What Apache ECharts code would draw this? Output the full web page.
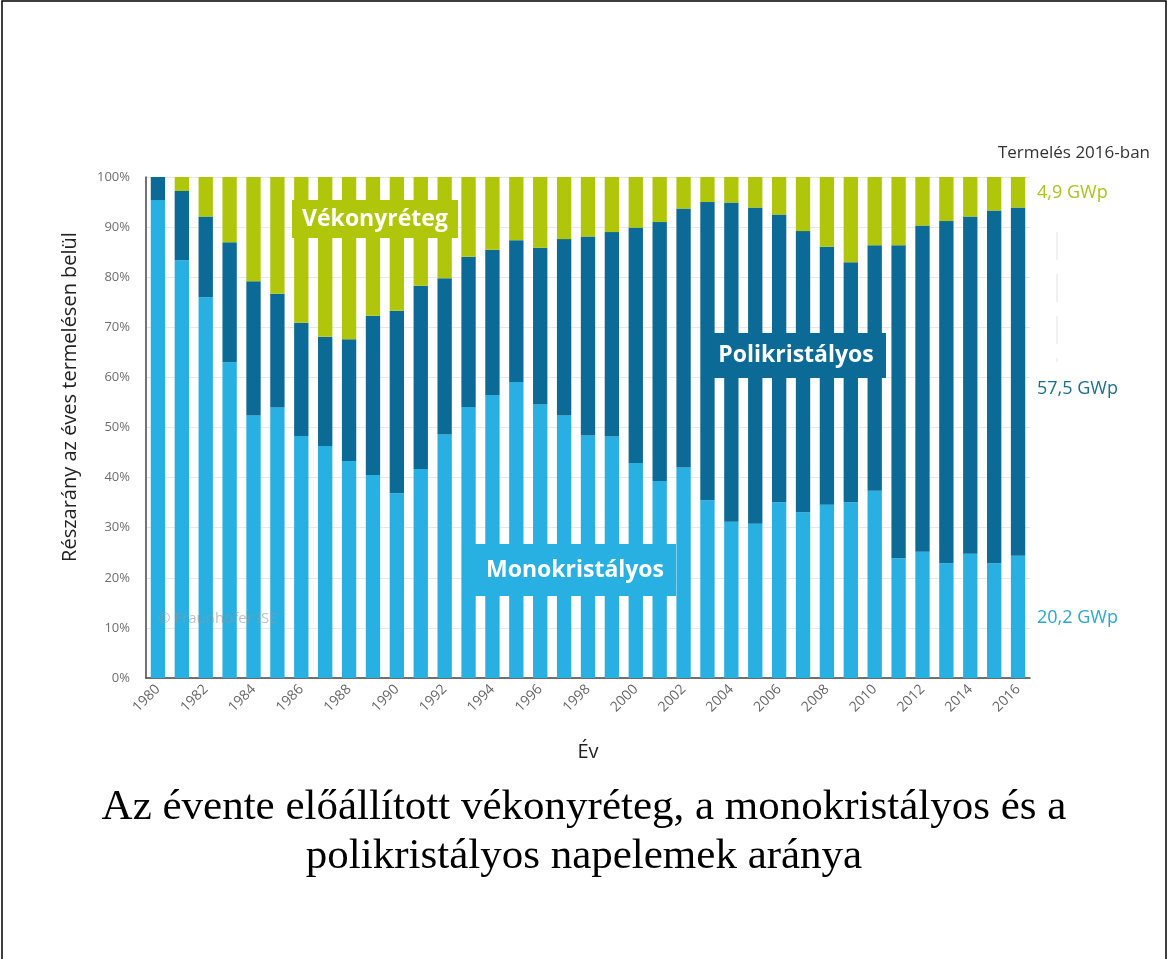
<!DOCTYPE html>
<html>
<head>
<meta charset="utf-8">
<script src="https://cdn.jsdelivr.net/npm/echarts@6/dist/echarts.min.js"></script>
<style>
  html, body { margin: 0; padding: 0; background: #fff; }
  #chart { width: 1169px; height: 959px; }
</style>
</head>
<body>
<div id="chart"></div>
<script>
// shares of yearly production, %
const years = ['1980','1981','1982','1983','1984','1985','1986','1987','1988','1989',
  '1990','1991','1992','1993','1994','1995','1996','1997','1998','1999',
  '2000','2001','2002','2003','2004','2005','2006','2007','2008','2009',
  '2010','2011','2012','2013','2014','2015','2016'];
const mono = [95.4, 83.4, 76.0, 63.0, 52.4, 54.0, 48.3, 46.3, 43.3, 40.5,
  36.9, 41.7, 48.6, 54.1, 56.5, 59.1, 54.6, 52.4, 48.4, 48.2,
  42.9, 39.3, 42.0, 35.5, 31.2, 30.8, 35.1, 33.1, 34.6, 35.1,
  37.4, 23.9, 25.2, 22.9, 24.8, 22.9, 24.4];
const poly = [4.6, 13.8, 16.1, 24.0, 26.8, 22.7, 22.6, 21.8, 24.3, 31.8,
  36.4, 36.6, 31.2, 30.0, 29.0, 28.3, 31.3, 35.2, 39.7, 40.8,
  47.0, 51.7, 51.7, 59.5, 63.7, 63.1, 57.4, 56.1, 51.5, 47.9,
  49.0, 62.5, 65.1, 68.3, 67.3, 70.4, 69.5];
const thin = [0, 2.8, 7.9, 13.0, 20.8, 23.3, 29.1, 31.9, 32.4, 27.7,
  26.7, 21.7, 20.2, 15.9, 14.5, 12.6, 14.1, 12.4, 11.9, 11.0,
  10.1, 9.0, 6.3, 5.0, 5.1, 6.1, 7.5, 10.8, 13.9, 17.0,
  13.6, 13.6, 9.7, 8.8, 7.9, 6.7, 6.1];
const output2016 = ['4,9 GWp', '57,5 GWp', '20,2 GWp'];

const C_MONO = '#29b0e3', C_POLY = '#0b6b96', C_THIN = '#b0c60a';
const FONT = 'Open Sans';

const chart = echarts.init(document.getElementById('chart'));

// coloured box with white text, sitting on top of the bars
function boxLabel(text, x, y, bg, w, h) {
  return [
    { type: 'rect', z: 100, shape: { x: x, y: y, width: w, height: h }, style: { fill: bg } },
    { type: 'text', z: 101, x: x + w / 2, y: y + h / 2,
      style: { text: text, fill: '#fff', font: 'bold 23px "Open Sans"', align: 'center', verticalAlign: 'middle' } }
  ];
}

chart.setOption({
  animation: false,
  textStyle: { fontFamily: FONT },
  grid: { left: 146, right: 139, top: 177, bottom: 281 },
  xAxis: {
    type: 'category',
    data: years,
    name: 'Év',
    nameLocation: 'middle',
    nameGap: 64,
    nameTextStyle: { fontSize: 20, color: '#222' },
    axisLine: { lineStyle: { color: '#444', width: 1.5 } },
    axisTick: { alignWithLabel: true, interval: 0, length: 4, lineStyle: { color: '#444' } },
    axisLabel: { interval: 1, rotate: 45, fontSize: 14, color: '#666', margin: 9 }
  },
  yAxis: {
    type: 'value',
    min: 0, max: 100, interval: 10,
    axisLine: { show: true, lineStyle: { color: '#444', width: 1.5 } },
    axisTick: { show: false },
    axisLabel: { formatter: '{value}%', fontSize: 13, color: '#6f6f6f', margin: 16 },
    splitLine: { lineStyle: { color: '#e8e8e8' } }
  },
  series: [
    { name: 'Monokristályos', type: 'bar', stack: 'all', data: mono, barWidth: '60%', itemStyle: { color: C_MONO } },
    { name: 'Polikristályos', type: 'bar', stack: 'all', data: poly, itemStyle: { color: C_POLY } },
    { name: 'Vékonyréteg', type: 'bar', stack: 'all', data: thin, itemStyle: { color: C_THIN } }
  ],
  graphic: [
    { type: 'rect', shape: { x: 2, y: 1, width: 1164, height: 1000 }, style: { fill: 'none', stroke: '#000', lineWidth: 1.5 }, silent: true },
    ...boxLabel('Vékonyréteg', 292, 200, C_THIN, 166, 38),
    ...boxLabel('Polikristályos', 706, 333, C_POLY, 180, 45),
    ...boxLabel('Monokristályos', 474, 544, C_MONO, 202, 52),
    { type: 'text', x: 70, y: 397, rotation: Math.PI / 2,
      style: { text: 'Részarány az éves termelésen belül', fill: '#222', font: '20px "Open Sans"', align: 'center', verticalAlign: 'middle' } },
    { type: 'text', x: 158, y: 619, z: 100,
      style: { text: '© Fraunhofer ISE', fill: 'rgba(150,150,150,0.6)', font: '15px "Open Sans"', verticalAlign: 'middle' } },
    { type: 'text', x: 1150, y: 153,
      style: { text: 'Termelés 2016-ban', fill: '#333', font: '17px "Open Sans"', align: 'right', verticalAlign: 'middle' } },
    { type: 'text', x: 1037, y: 193,
      style: { text: output2016[0], fill: '#a9c41a', font: '18px "Open Sans"', verticalAlign: 'middle' } },
    { type: 'text', x: 1037, y: 389,
      style: { text: output2016[1], fill: '#1b6f8e', font: '18px "Open Sans"', verticalAlign: 'middle' } },
    { type: 'text', x: 1037, y: 618,
      style: { text: output2016[2], fill: '#2aa6d2', font: '18px "Open Sans"', verticalAlign: 'middle' } },
    { type: 'line', shape: { x1: 1057, y1: 232, x2: 1057, y2: 362 },
      style: { stroke: '#e2e2e2', lineWidth: 1, lineDash: [28, 14] } },
    { type: 'text', x: 584, y: 808,
      style: { text: 'Az évente előállított vékonyréteg, a monokristályos és a', fill: '#000',
        font: '43px "Liberation Serif"', align: 'center', verticalAlign: 'middle' } },
    { type: 'text', x: 584, y: 857,
      style: { text: 'polikristályos napelemek aránya', fill: '#000',
        font: '43px "Liberation Serif"', align: 'center', verticalAlign: 'middle' } }
  ]
});
</script>
</body>
</html>
